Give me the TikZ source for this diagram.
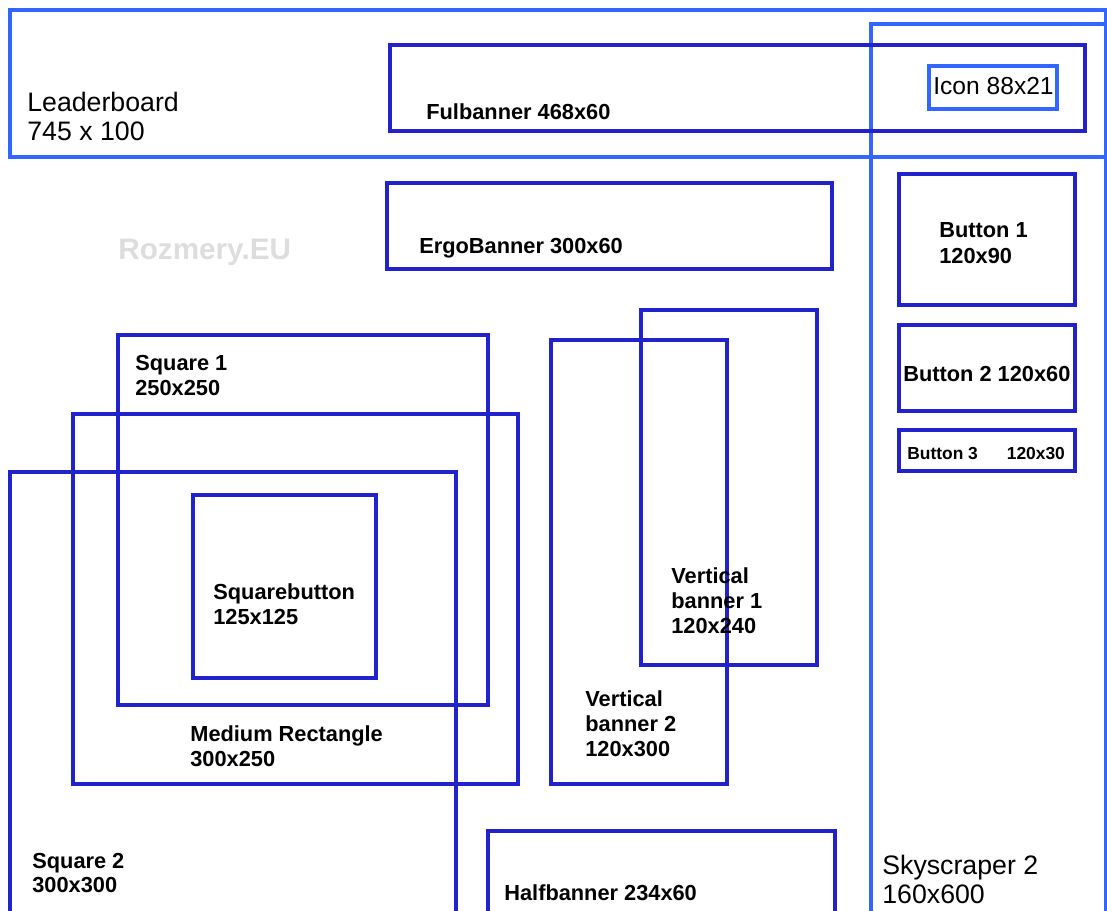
\documentclass[tikz,border=0pt]{standalone}
\usepackage{fontspec}
\setmainfont{Liberation Sans}
\definecolor{lbblue}{RGB}{51,102,255}
\definecolor{adblue}{RGB}{34,34,204}
\definecolor{wmgray}{RGB}{221,221,221}

\begin{document}
\begin{tikzpicture}[x=0.02cm, y=-0.02cm,
    ad/.style={draw=adblue, line width=1.9pt},
    wide/.style={draw=lbblue, line width=1.8pt},
    lbl/.style={anchor=west, inner sep=0pt, align=left, font=\fontsize{12.4}{14.2}\selectfont\bfseries},
    biglbl/.style={anchor=west, inner sep=0pt, align=left, font=\fontsize{15.2}{16.4}\selectfont}]
    \useasboundingbox (0,0) rectangle (1107,911);
    \clip (0,0) rectangle (1107,911);

    % wide formats
    \draw[wide] (10,10) rectangle (1106,157);
    \draw[wide] (871,24) rectangle (1106,940);
    \draw[ad] (390,45) rectangle (1085,131);
    \draw[wide] (929,66) rectangle (1057,109);
    \draw[ad] (387,183) rectangle (832,269);

    % buttons
    \draw[ad] (899,174) rectangle (1075,305);
    \draw[ad] (899,325) rectangle (1075,411);
    \draw[ad] (899,430) rectangle (1075,471);

    % squares and banners
    \draw[ad] (118,335) rectangle (488,705);
    \draw[ad] (641,310) rectangle (817,665);
    \draw[ad] (551,340) rectangle (727,784);
    \draw[ad] (73,414) rectangle (518,784);
    \draw[ad] (10,472) rectangle (456,940);
    \draw[ad] (193,495) rectangle (376,678);
    \draw[ad] (488,831) rectangle (835,940);

    \node[biglbl] (leader) at (27,116.5) {Leaderboard\\745 x 100};
    \node[lbl] (fulbanner) at (426,112) {Fulbanner 468x60};
    \node[biglbl, font=\fontsize{14}{16}\selectfont] (icon) at (933,86) {Icon 88x21};
    \node[lbl] (ergo) at (419,248) {ErgoBanner 300x60};
    \node[lbl, font=\fontsize{16.9}{18}\selectfont\bfseries, text=wmgray] (brand) at (118,252) {Rozmery.EU};
    \node[lbl, font=\fontsize{12.4}{14.7}\selectfont\bfseries] (btnA) at (939,243) {Button 1\\120x90};
    \node[lbl] (btnB) at (903,374) {Button 2 120x60};
    \node[lbl, font=\fontsize{9.9}{12}\selectfont\bfseries] (btnC) at (907,454) {Button 3\hspace{16.5pt}120x30};
    \node[lbl] (sqA) at (135,375.5) {Square 1\\250x250};
    \node[lbl] (vbA) at (671,601) {Vertical\\banner 1\\120x240};
    \node[lbl] (vbB) at (585,724) {Vertical\\banner 2\\120x300};
    \node[lbl] (medrect) at (190,746.5) {Medium Rectangle\\300x250};
    \node[lbl] (sqbtn) at (213,604.5) {Squarebutton\\125x125};
    \node[lbl] (sqB) at (32,873) {Square 2\\300x300};
    \node[lbl] (half) at (504,893) {Halfbanner 234x60};
    \node[biglbl] (sky) at (882,879.5) {Skyscraper 2\\160x600};
\end{tikzpicture}
\end{document}
